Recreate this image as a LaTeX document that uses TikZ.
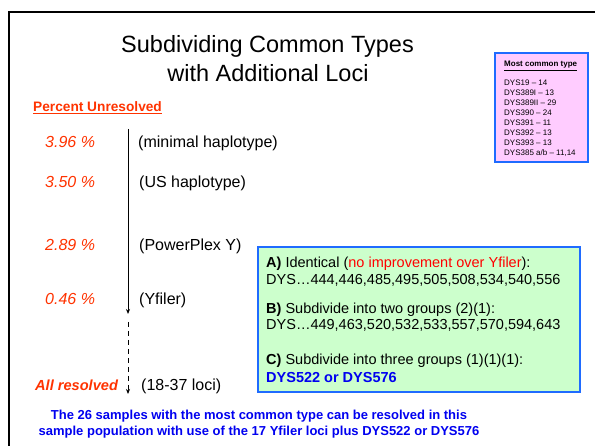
\documentclass[tikz,border=0pt]{standalone}
\usepackage{fontspec}
\setmainfont{Liberation Sans}
\usetikzlibrary{arrows.meta}
\definecolor{pctred}{HTML}{FF3300}
\definecolor{nored}{HTML}{FF0000}
\definecolor{txtblue}{HTML}{0000F0}
\definecolor{boxblue}{HTML}{1F6BFF}
\definecolor{pinkfill}{HTML}{FFCCFF}
\definecolor{greenfill}{HTML}{CCFFCC}
\tikzset{
  txt/.style={inner sep=0pt, anchor=base west},
  ttl/.style={inner sep=0pt, anchor=base, font=\fontsize{23.5}{28}\selectfont},
  pct/.style={txt, text=pctred, font=\fontsize{16}{19}\selectfont\itshape},
  lbl/.style={txt, font=\fontsize{16}{19}\selectfont},
  pinkline/.style={txt, font=\fontsize{8}{10}\selectfont},
  greenline/.style={txt, font=\fontsize{14.5}{17}\selectfont},
  bottomline/.style={inner sep=0pt, anchor=base, text=txtblue, font=\fontsize{13}{16}\selectfont\bfseries},
  infobox/.style={draw=boxblue, line width=2pt, inner sep=0pt},
  arr/.style={line width=1pt, -{Stealth[length=5pt,width=4pt]}},
}
\begin{document}
\begin{tikzpicture}[x=1pt,y=-1pt]
\useasboundingbox (0,0) rectangle (595,446);
\fill[white] (0,0) rectangle (595,446);
% frame
\coordinate (fbl) at (9,446);
\coordinate (ftl) at (9,12);
\coordinate (ftr) at (595,12);
\draw[line width=2pt] (fbl) -- (ftl) -- (ftr);
% title
\node[ttl] (t1) at (267.5,53) {Subdividing Common Types};
\node[ttl] (t2) at (268,82) {with Additional Loci};
% percent unresolved
\node[txt, text=pctred, font=\fontsize{13.7}{16}\selectfont\bfseries] (pu) at (33,112) {\underline{Percent Unresolved}};
% percentages
\node[pct] (p1) at (45,148) {3.96 \%};
\node[pct] (p2) at (45,188) {3.50 \%};
\node[pct] (p3) at (45,251) {2.89 \%};
\node[pct] (p4) at (45,305) {0.46 \%};
\node[pct, font=\fontsize{14.6}{17}\selectfont\bfseries\itshape] (p5) at (35,391) {All resolved};
% labels
\node[lbl] (l1) at (138,148) {(minimal haplotype)};
\node[lbl] (l2) at (139,188) {(US haplotype)};
\node[lbl] (l3) at (139,251) {(PowerPlex Y)};
\node[lbl] (l4) at (139,305) {(Yfiler)};
\node[lbl] (l5) at (141,391) {(18-37 loci)};
% arrows
\coordinate (a0) at (128,129);
\coordinate (a1) at (128,314);
\coordinate (a2) at (128,322);
\coordinate (a3) at (128,394);
\draw[arr] (a0) -- (a1);
\draw[arr, dash pattern=on 5pt off 4pt] (a2) -- (a3);
% pink box
\node[infobox, fill=pinkfill, minimum width=93pt, minimum height=109pt] (pbox) at (541.5,107.5) {};
\node[pinkline, font=\fontsize{8}{10}\selectfont\bfseries] (pk0) at (504,67) {\underline{Most common type}};
\foreach \s [count=\i] in {DYS19 – 14, DYS389I – 13, DYS389II – 29, DYS390 – 24, DYS391 – 11, DYS392 – 13, DYS393 – 13, DYS385 a/b – 11{,}14}
  \node[pinkline] (pk\i) at (504,{86+9.86*(\i-1)}) {\s};
% green box
\node[infobox, fill=greenfill, minimum width=322pt, minimum height=145pt] (gbox) at (419,319.5) {};
\node[greenline] (g1) at (266,268) {\textbf{A)} Identical (\textcolor{nored}{no improvement over Yfiler}):};
\node[greenline] (g2) at (266,284.5) {DYS…444,446,485,495,505,508,534,540,556};
\node[greenline] (g3) at (266,313.5) {\textbf{B)} Subdivide into two groups (2)(1):};
\node[greenline] (g4) at (266,330) {DYS…449,463,520,532,533,557,570,594,643};
\node[greenline] (g5) at (266,365) {\textbf{C)} Subdivide into three groups (1)(1)(1):};
\node[greenline, text=txtblue, font=\fontsize{14.5}{17}\selectfont\bfseries] (g6) at (266,382.5) {DYS522 or DYS576};
% bottom text
\node[bottomline] (b1) at (259,419.5) {The 26 samples with the most common type can be resolved in this};
\node[bottomline] (b2) at (259,435.5) {sample population with use of the 17 Yfiler loci plus DYS522 or DYS576};
\end{tikzpicture}
\end{document}
